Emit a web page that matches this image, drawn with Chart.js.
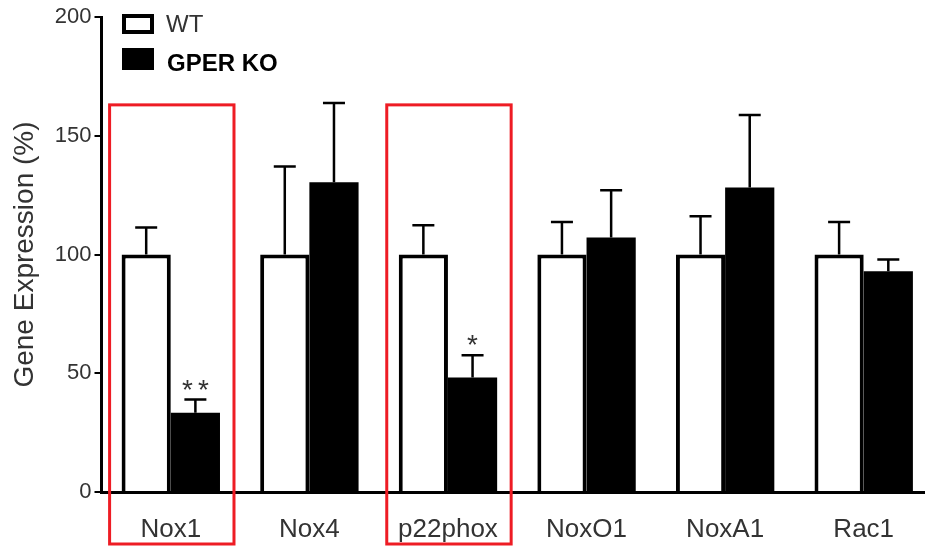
<!DOCTYPE html>
<html>
<head>
<meta charset="utf-8">
<script src="https://cdn.jsdelivr.net/npm/chart.js@4"></script>
<style>
  html, body { margin: 0; padding: 0; background: #fff; overflow: hidden; }
  #wrap { width: 933px; height: 546px; }
</style>
</head>
<body>
<div id="wrap"><canvas id="geneChart" width="933" height="546"></canvas></div>
<script>
// chart data
const genes = ['Nox1', 'Nox4', 'p22phox', 'NoxO1', 'NoxA1', 'Rac1'];
const wtMean = [100, 100, 100, 100, 100, 100];
const wtSem = [11.4, 37.1, 12.3, 13.7, 16.1, 13.7];
const koMean = [33.4, 130.4, 48.2, 107.2, 128.2, 93.0];
const koSem = [5.5, 33.4, 9.4, 19.9, 30.5, 4.9];
const significance = ['**', '', '*', '', '', ''];
const boxedGenes = ['Nox1', 'p22phox'];
const yTicks = [0, 50, 100, 150, 200];

const FONT = "'Liberation Sans', Arial, sans-serif";

// upward-only error bars + asterisks
const errorBars = {
    id: 'errorBars',
    afterDatasetsDraw(chart) {
        const ctx = chart.ctx;
        const y = chart.scales.y;
        const sems = [wtSem, koSem];
        const means = [wtMean, koMean];
        ctx.save();
        ctx.strokeStyle = '#000';
        ctx.lineWidth = 2.5;
        chart.data.datasets.forEach((ds, i) => {
            chart.getDatasetMeta(i).data.forEach((bar, j) => {
                const top = y.getPixelForValue(means[i][j] + sems[i][j]);
                ctx.beginPath();
                ctx.moveTo(bar.x, bar.y);
                ctx.lineTo(bar.x, top);
                ctx.moveTo(bar.x - 11, top);
                ctx.lineTo(bar.x + 11, top);
                ctx.stroke();
                if (i === 1 && significance[j]) {
                    ctx.fillStyle = '#333';
                    ctx.font = '28px ' + FONT;
                    ctx.textAlign = 'center';
                    ctx.textBaseline = 'alphabetic';
                    ctx.letterSpacing = '5px';
                    ctx.fillText(significance[j], bar.x + 2.5, top - 1);
                    ctx.letterSpacing = '0px';
                }
            });
        });
        ctx.restore();
    }
};

// red highlight boxes + legend in the top-left corner
const extras = {
    id: 'extras',
    afterDraw(chart) {
        const ctx = chart.ctx;
        const y = chart.scales.y;
        const metaWt = chart.getDatasetMeta(0);
        const metaKo = chart.getDatasetMeta(1);
        ctx.save();
        ctx.strokeStyle = '#ee1c24';
        ctx.lineWidth = 3;
        boxedGenes.forEach(g => {
            const idx = genes.indexOf(g);
            const wt = metaWt.data[idx];
            const ko = metaKo.data[idx];
            const left = wt.x - wt.width / 2 - 12;
            const right = ko.x + ko.width / 2 + 14;
            const top = y.getPixelForValue(163);
            ctx.strokeRect(left, top, right - left, chart.height - 2 - top);
        });

        // legend
        const ds = chart.data.datasets;
        ctx.lineWidth = 4;
        ctx.strokeStyle = '#000';
        ctx.fillStyle = '#fff';
        ctx.fillRect(124, 16, 28, 16);
        ctx.strokeRect(124, 16, 28, 16);
        ctx.fillStyle = '#000';
        ctx.fillRect(122, 48, 32, 22);
        ctx.textBaseline = 'middle';
        ctx.textAlign = 'left';
        ctx.fillStyle = '#333';
        ctx.font = '24px ' + FONT;
        ctx.fillText(ds[0].label, 166, 25);
        ctx.fillStyle = '#000';
        ctx.font = 'bold 24px ' + FONT;
        ctx.fillText(ds[1].label, 167, 64);
        ctx.restore();
    }
};

new Chart(document.getElementById('geneChart'), {
    type: 'bar',
    data: {
        labels: genes,
        datasets: [
            {
                label: 'WT',
                data: wtMean,
                backgroundColor: '#fff',
                borderColor: '#000',
                borderWidth: 4
            },
            {
                label: 'GPER KO',
                data: koMean,
                backgroundColor: '#000',
                borderColor: '#000',
                borderWidth: 0
            }
        ]
    },
    options: {
        responsive: false,
        animation: false,
        layout: { padding: { top: 17, right: 0, bottom: 0, left: 0 } },
        datasets: { bar: { categoryPercentage: 0.71, barPercentage: 1.0 } },
        plugins: {
            legend: { display: false },
            tooltip: { enabled: false }
        },
        scales: {
            x: {
                afterFit(scale) { scale.height = 54; },
                grid: { display: false },
                border: { display: true, color: '#000', width: 3 },
                ticks: { color: '#333', font: { family: FONT, size: 26 }, padding: 14 }
            },
            y: {
                min: 0,
                max: 200,
                afterFit(scale) { scale.width = 101.5; },
                afterBuildTicks(scale) { scale.ticks = yTicks.map(v => ({ value: v })); },
                grid: {
                    display: true,
                    drawOnChartArea: false,
                    drawTicks: true,
                    tickLength: 7,
                    color: '#000',
                    lineWidth: 2
                },
                border: { display: true, color: '#000', width: 3 },
                ticks: { color: '#333', font: { family: FONT, size: 22 }, padding: 3 },
                title: {
                    display: true,
                    text: 'Gene Expression (%)',
                    color: '#333',
                    font: { family: FONT, size: 28 },
                    padding: { top: 8, bottom: 0 }
                }
            }
        }
    },
    plugins: [errorBars, extras]
});
</script>
</body>
</html>
